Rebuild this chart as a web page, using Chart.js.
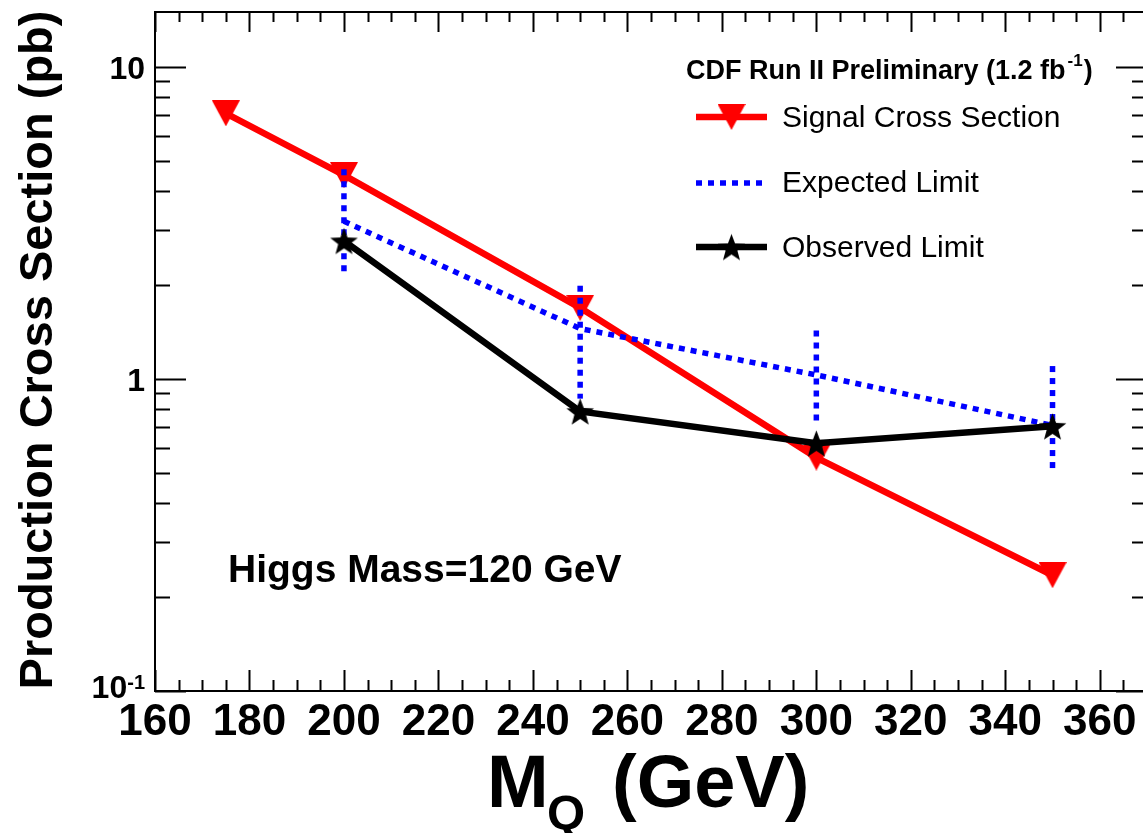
<!DOCTYPE html>
<html>
<head>
<meta charset="utf-8">
<script src="https://cdn.jsdelivr.net/npm/chart.js@4/dist/chart.umd.min.js"></script>
<style>
  html, body { margin: 0; padding: 0; background: #fff; overflow: hidden; }
  #wrap { position: relative; width: 1152px; height: 833px; }
</style>
</head>
<body>
<div id="wrap"><canvas id="limitChart" width="1152" height="833"></canvas></div>
<script>
// ---- data ----
const signalMasses = [175, 200, 250, 300, 350];
const signalXsec = [7.1, 4.5, 1.69, 0.56, 0.235];

const limitMasses = [200, 250, 300, 350];
const expectedLimit = [3.2, 1.45, 1.03, 0.71];
const expectedLow = [2.14, 0.865, 0.705, 0.50];
const expectedHigh = [4.7, 1.99, 1.43, 1.10];
const observedLimit = [2.77, 0.787, 0.622, 0.705];

const xTicks = [160, 180, 200, 220, 240, 260, 280, 300, 320, 340, 360];
const yTicks = [0.1, 1, 10];

const FONT = "'Liberation Sans', Arial, Helvetica, sans-serif";
const RED = "#ff0000";
const BLUE = "#0000ff";

// marker images
function makeTriangle(w, h) {
    const c = document.createElement("canvas");
    c.width = w; c.height = h;
    const g = c.getContext("2d");
    g.fillStyle = RED;
    g.beginPath();
    g.moveTo(0, 0);
    g.lineTo(w, 0);
    g.lineTo(w / 2, h);
    g.closePath();
    g.fill();
    return c;
}
function makeStar(R) {
    const size = Math.ceil(R * 2 + 2);
    const c = document.createElement("canvas");
    c.width = size; c.height = size;
    const g = c.getContext("2d");
    const cx = size / 2, cy = size / 2 + R * 0.1;
    const r = R * 0.42;
    g.fillStyle = "#000";
    g.beginPath();
    for (let i = 0; i < 10; i++) {
        const rad = i % 2 === 0 ? R : r;
        const a = -Math.PI / 2 + i * Math.PI / 5;
        const px = cx + rad * Math.cos(a), py = cy + rad * Math.sin(a);
        if (i === 0) g.moveTo(px, py); else g.lineTo(px, py);
    }
    g.closePath();
    g.fill();
    return c;
}
const triImg = makeTriangle(28, 26);
const starImg = makeStar(14.5);

// ---- datasets ----
const datasets = [];

datasets.push({
    label: "Observed Limit",
    data: limitMasses.map((m, i) => ({ x: m, y: observedLimit[i] })),
    borderColor: "#000",
    borderWidth: 6.5,
    pointStyle: starImg,
    pointRadius: 14
});

limitMasses.forEach((m, i) => {
    datasets.push({
        label: "band" + i,
        data: [{ x: m, y: expectedHigh[i] }, { x: m, y: expectedLow[i] }],
        borderColor: BLUE,
        borderWidth: 5.5,
        borderDash: [6, 6],
        pointRadius: 0
    });
});

datasets.push({
    label: "Expected Limit",
    data: limitMasses.map((m, i) => ({ x: m, y: expectedLimit[i] })),
    borderColor: BLUE,
    borderWidth: 5.5,
    borderDash: [6, 6],
    pointRadius: 0
});

datasets.push({
    label: "Signal Cross Section",
    data: signalMasses.map((m, i) => ({ x: m, y: signalXsec[i] })),
    borderColor: RED,
    borderWidth: 6.5,
    pointStyle: triImg,
    pointRadius: 14
});

// ---- frame, inner ticks, tick labels, titles, legend ----
const decorations = {
    id: "decorations",
    afterDraw(chart) {
        const ctx = chart.ctx;
        const a = chart.chartArea;
        const xs = chart.scales.x, ys = chart.scales.y;
        ctx.save();
        ctx.strokeStyle = "#000";
        ctx.lineWidth = 2;
        ctx.strokeRect(a.left, a.top, a.right - a.left, a.bottom - a.top);

        ctx.beginPath();
        for (let v = 160; v <= 370; v += 5) {
            const px = Math.round(xs.getPixelForValue(v)) + 0.5;
            const major = v % 20 === 0;
            const lb = major ? 21 : 11;
            const lt = major ? 20 : 10;
            ctx.moveTo(px, a.bottom); ctx.lineTo(px, a.bottom - lb);
            ctx.moveTo(px, a.top); ctx.lineTo(px, a.top + lt);
        }
        for (let e = -1; e <= 1; e++) {
            for (let k = 1; k <= 9; k++) {
                const v = k * Math.pow(10, e);
                if (v < ys.min || v > ys.max) continue;
                const py = Math.round(ys.getPixelForValue(v)) + 0.5;
                const len = k === 1 ? 31 : 15;
                ctx.moveTo(a.left, py); ctx.lineTo(a.left + len, py);
                ctx.moveTo(a.right, py); ctx.lineTo(a.right - len, py);
            }
        }
        ctx.stroke();

        ctx.fillStyle = "#000";
        // x tick labels
        ctx.textAlign = "center";
        ctx.textBaseline = "alphabetic";
        ctx.font = "bold 44px " + FONT;
        xTicks.forEach(v => ctx.fillText(String(v), xs.getPixelForValue(v), 735));

        // y tick labels
        ctx.textAlign = "right";
        ctx.font = "bold 32px " + FONT;
        yTicks.forEach(v => {
            const py = ys.getPixelForValue(v);
            if (v === 0.1) {
                ctx.font = "bold 20px " + FONT;
                ctx.fillText("-1", 145, py - 2);
                const wSup = ctx.measureText("-1").width;
                ctx.font = "bold 32px " + FONT;
                ctx.fillText("10", 145 - wSup, py + 7);
            } else {
                ctx.fillText(String(v), 145, py + 12);
            }
        });

        // y title
        ctx.save();
        ctx.translate(52, 350);
        ctx.rotate(-Math.PI / 2);
        ctx.textAlign = "center";
        ctx.font = "bold 47px " + FONT;
        ctx.fillText("Production Cross Section (pb)", 0, 0);
        ctx.restore();

        // x title with subscript
        ctx.textAlign = "left";
        ctx.font = "bold 74px " + FONT;
        ctx.fillText("M", 487, 807);
        ctx.font = "bold 49px " + FONT;
        ctx.fillText("Q", 547, 829);
        ctx.font = "bold 74px " + FONT;
        ctx.fillText("(GeV)", 612, 807);

        // annotation
        ctx.font = "bold 39px " + FONT;
        ctx.fillText("Higgs Mass=120 GeV", 228, 582);

        // legend header
        ctx.font = "bold 27px " + FONT;
        const head = "CDF Run II Preliminary (1.2 fb";
        ctx.fillText(head, 686, 79);
        let hx = 686 + ctx.measureText(head).width;
        ctx.font = "bold 17px " + FONT;
        ctx.fillText("-1", hx + 2, 66);
        hx += ctx.measureText("-1").width + 3;
        ctx.font = "bold 27px " + FONT;
        ctx.fillText(")", hx, 79);

        // legend entries
        const lx0 = 696, lx1 = 767, tx = 782;
        ctx.lineCap = "butt";
        ctx.strokeStyle = RED; ctx.lineWidth = 6.5;
        ctx.beginPath(); ctx.moveTo(lx0, 117); ctx.lineTo(lx1, 117); ctx.stroke();
        ctx.drawImage(triImg, 731.5 - triImg.width / 2, 117 - triImg.height / 2);

        ctx.strokeStyle = BLUE; ctx.lineWidth = 5.5; ctx.setLineDash([6, 6]);
        ctx.beginPath(); ctx.moveTo(lx0, 183); ctx.lineTo(lx1, 183); ctx.stroke();
        ctx.setLineDash([]);

        ctx.strokeStyle = "#000"; ctx.lineWidth = 6.5;
        ctx.beginPath(); ctx.moveTo(lx0, 247); ctx.lineTo(lx1, 247); ctx.stroke();
        ctx.drawImage(starImg, 731.5 - starImg.width / 2, 247 - starImg.height / 2);

        ctx.fillStyle = "#000";
        ctx.font = "30px " + FONT;
        ctx.fillText("Signal Cross Section", tx, 127);
        ctx.fillText("Expected Limit", tx, 192);
        ctx.fillText("Observed Limit", tx, 257);
        ctx.restore();
    }
};

new Chart(document.getElementById("limitChart"), {
    type: "line",
    data: { datasets: datasets },
    plugins: [decorations],
    options: {
        responsive: false,
        animation: false,
        events: [],
        layout: { autoPadding: false, padding: { top: 12, right: 5, left: 0, bottom: 0 } },
        plugins: {
            legend: { display: false },
            tooltip: { enabled: false }
        },
        scales: {
            x: {
                type: "linear",
                min: 160,
                max: 370,
                grid: { display: false, drawTicks: false },
                border: { display: false },
                ticks: { display: false },
                afterFit(scale) { scale.height = 142; },
                afterBuildTicks(scale) { scale.ticks = xTicks.map(v => ({ value: v })); }
            },
            y: {
                type: "logarithmic",
                min: 0.1,
                max: 15,
                grid: { display: false, drawTicks: false },
                border: { display: false },
                ticks: { display: false },
                afterFit(scale) { scale.width = 155; },
                afterBuildTicks(scale) { scale.ticks = yTicks.map(v => ({ value: v })); }
            }
        }
    }
});
</script>
</body>
</html>
